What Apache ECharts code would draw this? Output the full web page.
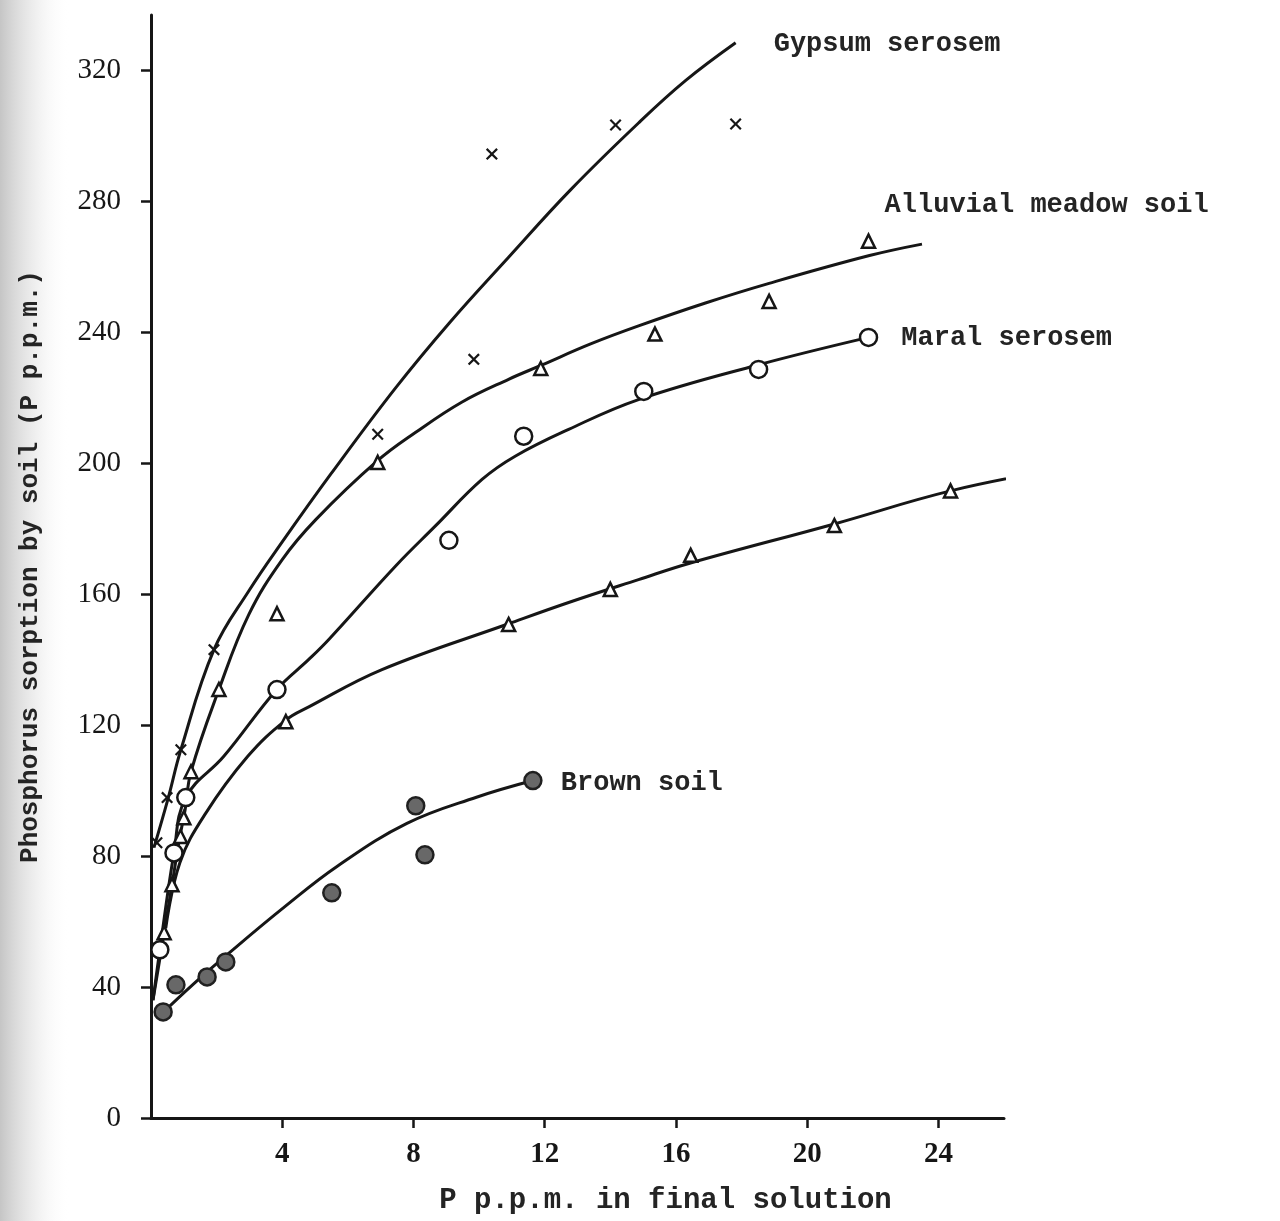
<!DOCTYPE html>
<html><head><meta charset="utf-8">
<script src="https://cdn.jsdelivr.net/npm/echarts@6/dist/echarts.min.js"></script>
<style>html,body{margin:0;padding:0;background:#fff}#c{width:1280px;height:1221px}</style>
</head><body><div id="c"></div>
<script>
// ---- tick labels ----
const xTicks = [4, 8, 12, 16, 20, 24];
const yTicks = [0, 40, 80, 120, 160, 200, 240, 280, 320];

// ---- series names ----
const names = ['Gypsum serosem', 'Alluvial meadow soil', 'Maral serosem', 'Terrace soil', 'Brown soil'];

// ---- measured points (x: P p.p.m. in final solution, y: P sorbed) ----
const gypsumPts = [[0.18,84.1],[0.49,97.9],[0.91,112.5],[1.92,143.1],[6.91,208.9],[9.84,231.8],[10.39,294.5],[14.16,303.4],[17.82,303.7]];
const alluvialPts = [[0.40,56.6],[0.64,71.3],[1.0,91.7],[1.22,105.8],[2.07,130.9],[3.84,154.1],[6.91,200.3],[11.88,229],[15.36,239.5],[18.84,249.5],[21.87,267.9]];
const maralPts = [[0.27,51.4],[0.70,81],[1.06,97.9],[3.84,130.9],[9.08,176.5],[11.36,208.3],[15.02,222],[18.52,228.7],[21.87,238.5]];
const terracePts = [[0.9,86],[4.11,121.1],[10.9,150.8],[14.0,161.5],[16.45,171.9],[20.83,181],[24.37,191.6]];
const brownPts = [[0.37,32.4],[0.76,40.7],[1.71,43.1],[2.28,47.7],[5.51,68.8],[8.07,95.4],[8.35,80.4],[11.64,103.1]];

// ---- hand-drawn fitted curves ----
const gypsumCurve = [[0.09,82.6],[0.52,97.6],[0.91,112.5],[1.92,143.1],[2.98,161],[4.0,176],[5.5,197],[7.45,223],[9.1,243],[10.9,263],[12.78,283.5],[14.86,304],[16.3,317],[17.82,328.5]];
const alluvialCurve = [[0.06,36],[0.40,56.6],[0.64,71.3],[0.88,85.9],[1.04,94.2],[1.22,105.8],[2.07,130.9],[2.98,153.8],[4.0,170.6],[5.03,182.9],[6.88,200.6],[8.07,209.5],[9.47,218.7],[10.9,225.7],[11.9,230],[13.4,236.5],[14.86,242],[16.9,249],[18.84,255],[21.9,263.5],[23.5,267]];
const maralCurve = [[0.06,36],[0.27,51.4],[0.70,81],[1.06,97.9],[2.22,110.5],[3.84,131],[4.81,140.1],[5.42,146.2],[7.45,168.6],[8.67,180.9],[10.09,195.1],[11.1,202.2],[12.73,210.4],[14.86,219.5],[18.47,230],[21.87,238.5]];
const terraceCurve = [[0.45,58],[0.88,78],[1.66,93],[2.95,110.5],[4.1,121.5],[4.81,125.6],[7.04,137],[10.9,151],[12.73,157.5],[14.86,164.5],[16.42,169.5],[20.83,181.5],[24.37,191.6],[27.54,198]];
const brownCurve = [[0.34,32],[1.3,41],[2.33,50],[4.07,64.5],[5.69,77],[7.8,90],[9.92,98],[11.64,103.1]];

// ---- label anchor positions (data coords, left edge of text) ----
const labelAt = [[18.98,328],[22.36,279],[22.87,238.4],[27.81,198],[12.49,102.4]];

const typeFont = '"Liberation Mono", "DejaVu Sans Mono", monospace';
const INK = '#161616';

function curve(name, data, lab) {
  return {
    type: 'line', name, data, smooth: 0.4, showSymbol: false, clip: false,
    lineStyle: { color: INK, width: 3 }, silent: true, z: 2,
    markPoint: {
      symbol: 'circle', symbolSize: 0, silent: true,
      label: { show: true, position: 'right', distance: 0, formatter: name,
        fontFamily: typeFont, fontSize: 27, fontWeight: 'bold', color: '#242424' },
      data: [{ coord: lab }]
    }
  };
}
const xPath = 'path://M0,1.3L1.3,0L5,3.7L8.7,0L10,1.3L6.3,5L10,8.7L8.7,10L5,6.3L1.3,10L0,8.7L3.7,5Z';
function pts(name, data, symbol, size, fill, border, bw) {
  return { type: 'scatter', name: name + ' data', data, symbol, symbolSize: size, z: 5, silent: true,
    itemStyle: { color: fill, borderColor: border, borderWidth: bw, opacity: 1 } };
}

const chart = echarts.init(document.getElementById('c'), null, { renderer: 'canvas' });
chart.setOption({
  backgroundColor: '#ffffff',
  animation: false,
  graphic: [{
    type: 'rect', left: 0, top: 0, z: -10, silent: true,
    shape: { width: 70, height: 1221 },
    style: { fill: new echarts.graphic.LinearGradient(0, 0, 1, 0, [
      { offset: 0, color: 'rgba(150,150,150,0.55)' },
      { offset: 0.5, color: 'rgba(190,190,190,0.25)' },
      { offset: 1, color: 'rgba(255,255,255,0)' }]) }
  }],
  grid: { left: 151, right: 276, top: 15, bottom: 103, containLabel: false },
  xAxis: {
    type: 'value', min: 0, max: 26, interval: 4,
    name: 'P p.p.m. in final solution', nameLocation: 'middle', nameGap: 68,
    nameTextStyle: { fontFamily: typeFont, fontSize: 29, fontWeight: 'bold', color: '#242424', padding: [0, 0, 0, 176] },
    axisLine: { show: true, onZero: false, lineStyle: { color: INK, width: 3 } },
    axisTick: { show: true, length: 10, customValues: xTicks, lineStyle: { color: INK, width: 2.5 } },
    axisLabel: { customValues: xTicks, margin: 22, fontFamily: '"Liberation Serif", serif', fontWeight: 'bold', fontSize: 29, color: INK },
    splitLine: { show: false }
  },
  yAxis: {
    type: 'value', min: 0, max: 337, interval: 40,
    name: 'Phosphorus sorption by soil (P p.p.m.)', nameLocation: 'middle', nameGap: 108,
    nameTextStyle: { fontFamily: typeFont, fontSize: 26, fontWeight: 'bold', color: '#242424' },
    axisLine: { show: true, onZero: false, lineStyle: { color: INK, width: 3 } },
    axisTick: { show: true, length: 10, customValues: yTicks, lineStyle: { color: INK, width: 2.5 } },
    axisLabel: { customValues: yTicks, margin: 30, fontFamily: '"Liberation Serif", serif', fontSize: 29, color: INK },
    splitLine: { show: false }
  },
  series: [
    curve(names[0], gypsumCurve, labelAt[0]),
    curve(names[1], alluvialCurve, labelAt[1]),
    curve(names[2], maralCurve, labelAt[2]),
    curve(names[3], terraceCurve, labelAt[3]),
    curve(names[4], brownCurve, labelAt[4]),
    pts(names[0], gypsumPts, xPath, 12, INK, INK, 0),
    pts(names[1], alluvialPts, 'triangle', 13, '#ffffff', INK, 2.5),
    pts(names[2], maralPts, 'circle', 17, '#ffffff', INK, 2.5),
    pts(names[3], terracePts, 'triangle', 13, '#ffffff', INK, 2.5),
    pts(names[4], brownPts, 'circle', 17, '#686868', '#202020', 2.5)
  ]
});
</script></body></html>
